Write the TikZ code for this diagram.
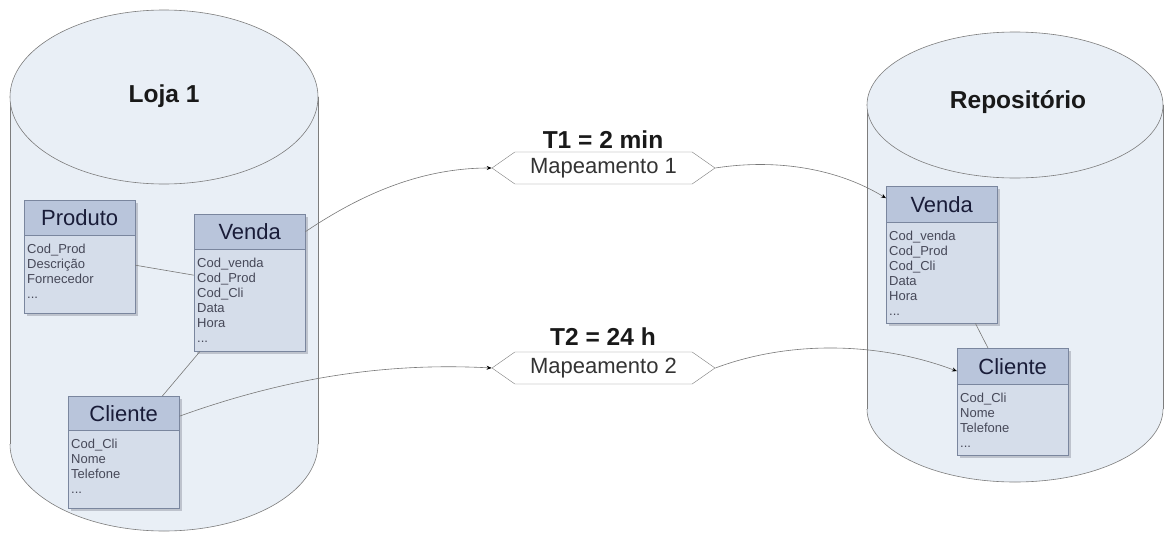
\documentclass[tikz,border=0pt]{standalone}
\usepackage{fontspec}
\setmainfont{Liberation Sans}
\usetikzlibrary{arrows.meta,shapes.symbols}
\definecolor{cylfill}{RGB}{233,239,246}
\definecolor{cylline}{RGB}{125,125,125}
\definecolor{hdrc}{RGB}{185,197,219}
\definecolor{bodyc}{RGB}{213,221,234}
\definecolor{bordc}{RGB}{122,134,158}
\definecolor{hdrtext}{RGB}{25,28,56}
\definecolor{fldtext}{RGB}{70,72,88}
\definecolor{linec}{RGB}{120,120,120}
\definecolor{shadowc}{RGB}{190,195,205}
\tikzset{
  hdr/.style={rectangle, draw=bordc, fill=hdrc, minimum width=111pt, anchor=north west,
    inner sep=0pt, text=hdrtext, font=\fontsize{22}{24}\selectfont},
  bodyb/.style={rectangle, draw=bordc, fill=bodyc, minimum width=111pt, anchor=north west, inner sep=0pt},
  flds/.style={anchor=north west, align=left, inner sep=0pt, text=fldtext,
    font=\fontsize{13}{15}\selectfont},
  rel/.style={draw=linec, line width=0.6pt},
  flow/.style={draw=linec, line width=0.6pt, -{Stealth[length=5pt,width=4pt,black]}},
  mapbox/.style={signal, signal to=west and east, signal pointer angle=70, draw=cylline, fill=white,
    minimum width=223pt, minimum height=32pt, inner sep=0pt, text=black!80,
    font=\fontsize{22}{24}\selectfont},
  title/.style={font=\bfseries\fontsize{24.5}{26}\selectfont, text=black!90},
  cyl/.style={fill=cylfill},
  cylout/.style={draw=cylline, line width=0.6pt}
}
\newcommand{\umlbox}[7]{%
  \fill[shadowc, xshift=2.5pt, yshift=-2.5pt] (#2,#3) rectangle ++(111,#5);
  \node[bodyb, minimum height=#5pt] (#1) at (#2,#3) {};
  \node[hdr, minimum height=#4pt] (#1h) at (#2,#3) {#6};
  \node[flds] (#1f) at ([xshift=3pt,yshift=-8pt]#1h.south west) {#7};
}
\begin{document}
\begin{tikzpicture}[x=1pt,y=-1pt]
\useasboundingbox (0,0) rectangle (1165,533);
\fill[white] (0,0) rectangle (1165,533);

% left cylinder
\fill[cyl] (10,97) rectangle (318,444);
\fill[cyl] (164,444) ellipse (154pt and 87pt);
\draw[cylout] (10,97) -- (10,444) (318,97) -- (318,444);
\begin{scope}
  \clip (0,444) rectangle (330,540);
  \draw[cylout] (164,444) ellipse (154pt and 87pt);
\end{scope}
\filldraw[cyl, cylout] (164,97) ellipse (154pt and 87pt);
\node[title] (loja) at (164,96) {Loja 1};

% right cylinder
\fill[cyl] (867,105) rectangle (1163,409);
\fill[cyl] (1015,409) ellipse (148pt and 73pt);
\draw[cylout] (867,105) -- (867,409) (1163,105) -- (1163,409);
\begin{scope}
  \clip (850,409) rectangle (1165,540);
  \draw[cylout] (1015,409) ellipse (148pt and 73pt);
\end{scope}
\filldraw[cyl, cylout] (1015,105) ellipse (148pt and 73pt);
\node[title] (repo) at (1018,102) {Repositório};

% tables
\umlbox{pr}{24}{200}{35}{113}{Produto}{Cod\_Prod\\Descrição\\Fornecedor\\...}
\umlbox{lv}{194}{214}{35}{137}{Venda}{Cod\_venda\\Cod\_Prod\\Cod\_Cli\\Data\\Hora\\...}
\umlbox{lc}{68}{396}{34}{112}{Cliente}{Cod\_Cli\\Nome\\Telefone\\...}
\umlbox{rv}{886}{186}{36}{137}{Venda}{Cod\_venda\\Cod\_Prod\\Cod\_Cli\\Data\\Hora\\...}
\umlbox{rc}{957}{348}{36}{107}{Cliente}{Cod\_Cli\\Nome\\Telefone\\...}

% relations
\draw[rel] ([yshift=-8.5pt]pr.east) -- ([yshift=7.5pt]lv.west);
\draw[rel] ([xshift=6pt]lv.south west) -- ([xshift=-17pt]lc.north east);
\draw[rel] ([xshift=-22pt]rv.south east) -- ([xshift=31pt]rc.north west);

% mappings
\node[mapbox] (m1) at (603.5,168) {Mapeamento 1};
\node[mapbox] (m2) at (603.5,368) {Mapeamento 2};
\node[title] (t1) at (603,140) {T1 = 2 min};
\node[title] (t2) at (603,337) {T2 = 24 h};

\draw[flow] (lvh.east) .. controls (360,195) and (420,168) .. (m1.west);
\draw[flow] (m1.east) .. controls (780,158) and (840,170) .. ([yshift=6pt]rvh.west);
\draw[flow] ([yshift=-3pt]lch.east) .. controls (280,380) and (380,362) .. (m2.west);
\draw[flow] (m2.east) .. controls (790,340) and (880,342) .. ([yshift=-5pt]rch.west);
\end{tikzpicture}
\end{document}
